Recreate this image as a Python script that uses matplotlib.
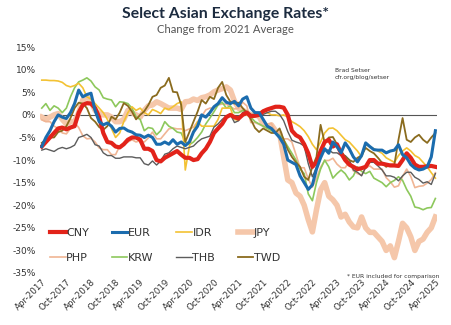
import numpy as np
import matplotlib.pyplot as plt

# monthly values, Apr-2017 .. Apr-2025, % change vs 2021 average
cny = [-7.0, -6.0, -5.0, -4.0, -3.0, -2.8, -3.2, -2.8, -2.5,
       0.5, 2.2, 2.6, 2.5, 1.5, -0.5, -4.0, -6.0, -6.2, -7.0, -7.2, -6.5,
       -5.5, -5.0, -5.0, -5.5, -7.5, -7.5, -8.0, -10.0, -10.3, -9.5, -9.0, -8.5,
       -8.0, -8.8, -9.5, -9.5, -10.0, -9.8, -8.5, -7.5, -6.0, -4.0, -3.0, -2.0,
       -0.5, 0.0, -0.5, -0.8, 0.0, 0.5, -0.3, -0.2, 0.0, 0.8, 1.2, 1.5,
       1.8, 1.8, 1.6, 0.0, -3.5, -4.5, -5.0, -6.5, -8.5, -11.5, -10.5, -8.0,
       -6.0, -5.5, -7.0, -6.5, -8.5, -10.0, -11.0, -11.5, -12.0, -11.8, -11.5, -10.0,
       -10.0, -10.8, -10.8, -11.0, -11.2, -11.2, -11.3, -10.0, -8.5, -9.5, -11.0, -11.5,
       -11.5, -11.4, -11.3, -11.5]
eur = [-7.0, -5.0, -3.5, -1.5, 0.0, -0.5, -0.8, 0.5, 2.5,
       5.5, 4.0, 4.5, 4.8, 1.0, -1.5, -2.2, -1.8, -2.5, -3.8, -3.0, -2.9,
       -3.5, -3.8, -4.4, -4.5, -5.0, -4.5, -5.0, -6.5, -6.5, -6.0, -6.5, -5.5,
       -6.5, -6.0, -6.8, -6.0, -3.8, -2.5, 0.0, -0.5, 0.5, 1.8, 2.5, 3.8,
       2.8, 2.5, 3.0, 2.0, 3.5, 4.0, 1.5, 0.5, 0.5, -1.0, -2.5, -3.0,
       -4.0, -5.0, -6.5, -10.0, -10.5, -11.0, -13.5, -15.0, -16.5, -15.5, -12.0, -9.5,
       -7.5, -8.5, -6.0, -7.0, -8.4, -6.2, -7.5, -9.3, -10.4, -9.0, -6.2, -7.0,
       -7.7, -7.8, -7.8, -8.4, -8.0, -7.8, -6.6, -8.8, -9.5, -11.0, -11.8, -12.2,
       -12.0, -11.5, -9.3, -3.5]
idr = [7.7, 7.7, 7.6, 7.6, 7.5, 7.2, 6.5, 6.2, 6.5,
       7.0, 6.0, 4.0, 3.5, 2.5, 1.5, 0.5, -1.0, -3.0, -5.0, -4.0, -1.5,
       0.5, 1.8, 1.0, 1.5, 0.5, 0.0, 1.2, 0.8, 0.3, 1.5, 1.2, 1.8,
       2.5, 2.9, -12.2, -7.0, -3.5, -1.5, -2.5, -2.5, -2.5, -2.5, -1.0, 1.5,
       1.5, 1.5, -1.0, -1.2, 0.3, 0.0, -0.5, 0.0, 0.5, 1.0, 0.5, 0.0,
       0.0, -0.2, 0.0, -0.5, -1.5, -2.0, -2.6, -3.5, -4.8, -6.5, -7.7, -6.0,
       -4.0, -3.0, -2.9, -3.5, -4.5, -5.5, -6.0, -7.0, -8.0, -9.3, -6.6, -7.0,
       -7.5, -8.0, -8.5, -9.5, -10.0, -10.5, -9.0, -8.0, -7.3, -8.0, -9.0, -9.5,
       -10.5, -11.5, -12.8, -14.0]
jpy = [-0.5, -1.0, -0.5, 0.0, 0.3, -1.0, -2.0, -1.5, -1.5,
       0.5, 3.3, 4.0, 3.0, 1.0, 0.3, 0.0, 0.0, -0.5, -1.5, -1.5, -1.0,
       1.0, 0.5, 0.0, -0.5, 1.0, 2.0, 2.2, 2.9, 2.5, 2.0, 1.5, 1.5,
       1.5, 1.2, 2.9, 3.0, 3.5, 3.2, 3.8, 4.0, 4.4, 5.1, 5.5, 5.8,
       6.2, 5.5, 3.0, 1.5, 1.0, 0.5, 0.0, 0.0, -0.3, -2.0, -2.5, -2.2,
       -3.5, -4.0, -9.3, -14.4, -15.0, -17.3, -18.0, -20.0, -23.2, -25.9, -21.0, -16.6,
       -15.0, -18.0, -18.8, -20.0, -22.6, -22.0, -23.7, -24.8, -25.0, -22.6, -25.0, -26.0,
       -26.0, -27.0, -28.0, -30.0, -29.0, -31.6, -28.0, -24.0, -25.0, -27.0, -30.0, -28.0,
       -27.5, -26.0, -25.0, -22.6]
php = [-1.1, -1.5, -1.5, -2.5, -3.0, -4.0, -4.2, -3.0, -1.7,
       -2.8, -4.6, -5.3, -5.2, -6.0, -7.3, -7.7, -7.7, -8.8, -8.8, -6.9, -6.5,
       -6.0, -5.5, -6.0, -5.7, -6.0, -5.1, -3.8, -5.3, -5.3, -4.2, -3.1, -2.9,
       -3.1, -3.1, -3.5, -3.1, -2.7, -1.5, -0.3, 1.1, 1.5, 1.5, 2.2, 2.4,
       2.4, 1.8, 1.3, 1.5, 2.8, 2.0, -1.7, -1.7, -2.1, -2.5, -2.1, -1.9,
       -3.8, -4.0, -5.3, -5.3, -6.0, -8.8, -11.7, -11.7, -14.2, -16.0, -14.0, -11.6,
       -10.1, -10.1, -9.6, -10.9, -11.7, -11.7, -10.3, -12.4, -13.0, -13.3, -11.7, -11.3,
       -12.0, -12.0, -12.0, -13.9, -14.8, -16.0, -15.7, -13.6, -12.0, -13.6, -16.1, -15.8,
       -15.7, -15.1, -14.3, -12.8]
krw = [1.5, 2.5, 1.0, 2.0, 1.5, 0.5, 1.5, 4.0, 6.0,
       7.3, 7.7, 8.2, 7.5, 6.2, 5.5, 3.8, 3.5, 3.3, 1.8, 2.9, 2.8,
       2.5, 1.5, -0.4, -1.0, -3.5, -2.8, -3.0, -4.4, -3.5, -1.5, -2.5, -3.0,
       -3.8, -4.0, -6.0, -6.6, -6.0, -5.0, -3.8, -2.0, -0.7, 0.7, 2.2, 2.8,
       1.5, 2.0, 0.5, 0.5, 1.0, 0.5, -0.5, -1.5, -2.0, -2.5, -3.0, -3.5,
       -4.0, -4.5, -5.5, -7.0, -8.5, -10.0, -12.0, -13.0, -17.5, -19.0, -15.0, -12.0,
       -10.0, -11.5, -14.0, -13.0, -12.2, -13.0, -14.4, -13.5, -11.5, -12.5, -13.0, -12.5,
       -14.0, -14.5, -15.0, -15.9, -15.0, -14.5, -13.7, -14.5, -16.5, -18.0, -20.4, -20.6,
       -21.0, -20.6, -20.5, -18.5]
thb = [-7.8, -7.5, -7.8, -8.1, -7.5, -7.2, -7.5, -7.2, -6.7,
       -5.0, -4.7, -4.3, -5.0, -6.6, -6.9, -8.4, -9.0, -9.0, -9.6, -9.6, -9.3,
       -9.3, -9.3, -9.5, -9.5, -10.8, -11.1, -10.2, -11.1, -10.2, -8.7, -8.4, -7.5,
       -6.9, -7.2, -7.5, -7.2, -6.9, -6.0, -5.3, -5.0, -4.7, -2.7, -2.0, -1.0,
       -0.3, 0.1, -1.7, -1.3, 0.5, 0.8, 0.1, 0.1, 0.5, 0.1, 0.5, 0.8,
       0.8, 0.1, -1.3, -3.7, -5.6, -6.0, -6.3, -6.9, -10.8, -13.7, -11.6, -9.0,
       -7.8, -7.8, -8.4, -8.4, -9.0, -9.0, -9.9, -12.2, -12.7, -13.5, -11.6, -10.5,
       -10.5, -11.3, -12.2, -13.5, -13.5, -13.8, -14.6, -13.5, -12.7, -12.7, -13.8, -14.3,
       -15.1, -14.8, -15.4, -13.0]
twd = [-6.2, -5.5, -5.0, -5.0, -3.8, -3.5, -2.5, -0.7, 1.5,
       2.7, 2.5, 1.5, -0.7, -1.5, -2.7, -3.3, -2.5, -0.4, -1.0, 0.5, 2.6,
       2.0, 0.7, -1.0, 0.0, 0.8, 2.2, 4.0, 4.4, 6.0, 6.5, 8.2, 5.1,
       5.0, 2.2, -6.0, -3.8, -1.5, 0.7, 3.3, 2.5, 4.0, 3.5, 6.0, 7.3,
       4.4, 2.9, 2.5, 2.7, 1.5, 0.5, -1.0, -2.9, -3.8, -3.0, -3.5, -4.0,
       -4.0, -3.0, -5.5, -7.7, -9.3, -10.5, -11.5, -13.7, -14.4, -11.5, -9.3, -2.2,
       -6.2, -5.0, -4.9, -6.5, -8.0, -9.3, -10.0, -10.4, -9.5, -9.0, -7.3, -8.0,
       -8.5, -9.5, -10.6, -11.5, -11.0, -11.0, -5.5, -0.7, -5.5, -6.0, -5.0, -4.4,
       -5.5, -6.2, -5.0, -4.0]

tick_labels = ['Apr-2017', 'Oct-2017', 'Apr-2018', 'Oct-2018', 'Apr-2019', 'Oct-2019',
               'Apr-2020', 'Oct-2020', 'Apr-2021', 'Oct-2021', 'Apr-2022', 'Oct-2022',
               'Apr-2023', 'Oct-2023', 'Apr-2024', 'Oct-2024', 'Apr-2025']
y_ticks = [15, 10, 5, 0, -5, -10, -15, -20, -25, -30, -35]

x = np.arange(len(cny))

fig = plt.figure(figsize=(4.51, 3.25), dpi=100)
ax = fig.add_axes([0.089, 0.16, 0.88, 0.695])

# draw order: thick pale JPY at the back, CNY on top
series = [('JPY', jpy, '#f5c7aa', 4.0, 1),
          ('PHP', php, '#f0b594', 1.2, 2),
          ('KRW', krw, '#8dc85c', 1.2, 3),
          ('IDR', idr, '#f3c233', 1.2, 4),
          ('THB', thb, '#5c5c5c', 1.0, 5),
          ('TWD', twd, '#8a6b1e', 1.3, 6),
          ('CNY', cny, '#e2231a', 3.0, 7),
          ('EUR', eur, '#1b6cae', 2.2, 8)]
lines = {}
for name, vals, col, lw, z in series:
    lines[name], = ax.plot(x, vals, color=col, lw=lw, zorder=z,
                           solid_joinstyle='round', label=name)

ax.axhline(0, color='#555555', lw=0.8, zorder=0.5)

ax.set_xlim(-0.4, 96.4)
ax.set_ylim(-35, 15)
ax.set_yticks(y_ticks)
ax.set_yticklabels(['%d%%' % v for v in y_ticks], fontsize=6.5, color='#333333')
ax.set_xticks(np.arange(0, 97, 6))
ax.set_xticklabels(tick_labels, rotation=45, ha='right', rotation_mode='anchor',
                   fontsize=6.3, color='#333333')
ax.tick_params(length=0, pad=3)
for s in ax.spines.values():
    s.set_visible(False)

# legend filled column-wise, so order it to read row by row
order = ['CNY', 'PHP', 'EUR', 'KRW', 'IDR', 'THB', 'JPY', 'TWD']
leg = ax.legend([lines[n] for n in order], order, ncol=4, frameon=False,
                loc='upper left', bbox_to_anchor=(0.0, 0.245),
                fontsize=8, handlelength=1.4, handletextpad=0.05,
                columnspacing=2.05, labelspacing=1.4)
for t in leg.get_texts():
    t.set_color('#333333')

fig.text(0.5, 0.958, 'Select Asian Exchange Rates*', ha='center', va='center',
         fontsize=11.3, fontweight='bold', color='#1c2b3f', family='Lato')
fig.text(0.5, 0.908, 'Change from 2021 Average', ha='center', va='center',
         fontsize=8.1, color='#555555', family='Lato')
fig.text(0.743, 0.772, 'Brad Setser\ncfr.org/blog/setser', ha='left', va='center',
         fontsize=4.3, color='#333333', linespacing=1.4)
fig.text(0.975, 0.15, '* EUR included for comparison', ha='right', va='center',
         fontsize=4.3, color='#333333')

fig.savefig('out.png', dpi=100)
